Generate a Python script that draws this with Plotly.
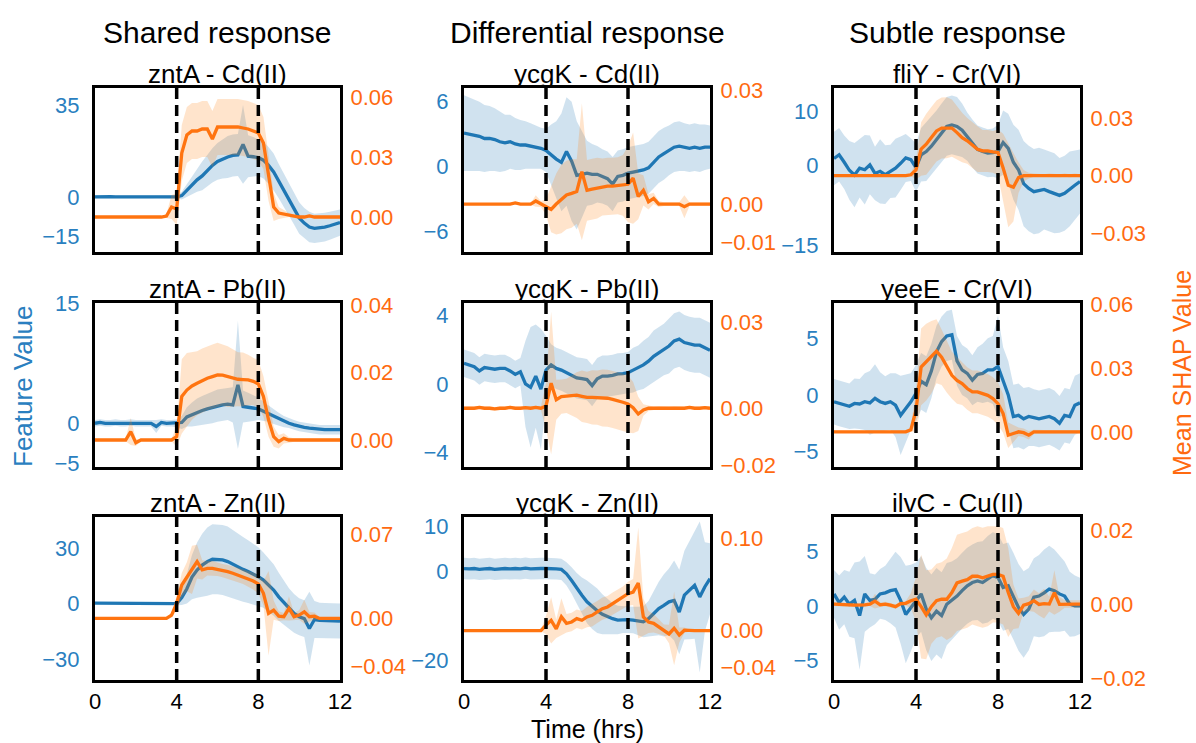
import plotly.graph_objects as go

# ---------------- data ----------------
TIME = [0.0, 0.25, 0.5, 0.75, 1.0, 1.25, 1.5, 1.75, 2.0, 2.25, 2.5, 2.75, 3.0, 3.25, 3.5, 3.75,
        4.0, 4.25, 4.5, 4.75, 5.0, 5.25, 5.5, 5.75, 6.0, 6.25, 6.5, 6.75, 7.0, 7.25, 7.5, 7.75,
        8.0, 8.25, 8.5, 8.75, 9.0, 9.25, 9.5, 9.75, 10.0, 10.25, 10.5, 10.75, 11.0, 11.25, 11.5, 11.75, 12.0]

COLUMN_TITLES = ["Shared response", "Differential response", "Subtle response"]
PANEL_TITLES = ["zntA - Cd(II)", "ycgK - Cd(II)", "fliY - Cr(VI)",
                "zntA - Pb(II)", "ycgK - Pb(II)", "yeeE - Cr(VI)",
                "zntA - Zn(II)", "ycgK - Zn(II)", "ilvC - Cu(II)"]
X_TICKS = [0, 4, 8, 12]
STIM_TIMES = [4, 8]
FV_TICKS = [[-15, 0, 35], [-6, 0, 6], [-15, 0, 10],
            [-5, 0, 15], [-4, 0, 4], [-5, 0, 5],
            [-30, 0, 30], [-20, 0, 10], [-5, 0, 5]]
SHAP_TICKS = [[0.0, 0.03, 0.06], [-0.01, 0.0, 0.03], [-0.03, 0.0, 0.03],
              [0.0, 0.02, 0.04], [-0.02, 0.0, 0.03], [0.0, 0.03, 0.06],
              [-0.04, 0.0, 0.07], [-0.04, 0.0, 0.10], [-0.02, 0.0, 0.02]]

# panel 1: zntA - Cd(II)
ZNTA_CD_FV = [0.0, 0.1, 0.0, 0.1, 0.0, 0.0, 0.1, 0.0, 0.0, 0.1, 0.0, 0.0, 0.1, 0.0, 0.0, 0.0,
              0.0, 0.5, 2.5, 4.5, 6.5, 8.0, 10.0, 12.0, 13.5, 14.5, 15.2, 15.8, 16.0, 20.0, 15.5, 15.3,
              15.0, 14.0, 12.0, 9.5, 6.0, 2.5, -1.0, -4.5, -8.0, -10.0, -11.5, -12.0, -11.8, -11.5, -11.0, -10.5, -9.8]
ZNTA_CD_FV_SD = [0.5, 0.5, 0.5, 0.5, 0.5, 0.5, 0.5, 0.5, 0.5, 0.5, 0.5, 0.5, 0.5, 0.5, 0.5, 0.5,
                 0.6, 1.5, 2.5, 3.5, 4.5, 5.5, 6.0, 6.5, 7.0, 7.5, 8.0, 8.0, 8.0, 15.0, 8.0, 7.5,
                 7.0, 7.0, 7.0, 7.0, 6.5, 6.5, 6.0, 6.0, 6.0, 5.8, 5.8, 5.6, 5.5, 5.5, 5.3, 5.2, 5.0]
ZNTA_CD_SHAP = [0.0, 0.0, 0.0, 0.0, 0.0, 0.0, 0.0, 0.0, 0.0, 0.0, 0.0, 0.0, 0.0, 0.0, 0.0005, 0.005,
                0.004, 0.032, 0.041, 0.043, 0.043, 0.044, 0.044, 0.039, 0.045, 0.045, 0.045, 0.045, 0.045, 0.0445, 0.044, 0.043,
                0.042, 0.037, 0.020, 0.005, 0.002, 0.0015, 0.001, 0.0005, 0.0, 0.0, 0.0005, 0.0, 0.0, 0.0, 0.0, 0.0, 0.0]
ZNTA_CD_SHAP_SD = [0.0004, 0.0004, 0.0004, 0.0004, 0.0004, 0.0004, 0.0004, 0.0004, 0.0004, 0.0004, 0.0004, 0.0004, 0.0004, 0.0004, 0.001, 0.006,
                   0.008, 0.014, 0.014, 0.014, 0.014, 0.014, 0.014, 0.014, 0.014, 0.014, 0.014, 0.014, 0.014, 0.014, 0.014, 0.014,
                   0.014, 0.013, 0.012, 0.007, 0.003, 0.002, 0.001, 0.0007, 0.0007, 0.0007, 0.0007, 0.0007, 0.0007, 0.0007, 0.0007, 0.0007, 0.0007]

# panel 2: ycgK - Cd(II)
YCGK_CD_FV = [3.1, 3.0, 2.9, 2.8, 2.6, 2.6, 2.5, 2.3, 2.2, 2.3, 2.1, 2.0, 2.0, 1.9, 1.8, 1.7,
              1.5, 1.1, 0.7, 0.4, 1.4, 0.5, -0.8, -0.7, -0.6, -0.7, -0.7, -0.9, -1.1, -1.6, -0.9, -0.8,
              -0.6, -0.5, -0.4, -0.3, -0.1, 0.4, 0.9, 1.2, 1.5, 1.8, 1.9, 1.8, 1.7, 1.8, 1.7, 1.8, 1.8]
YCGK_CD_FV_SD = [3.5, 3.4, 3.3, 3.2, 3.1, 3.0, 2.9, 2.8, 2.6, 2.5, 2.4, 2.3, 2.2, 2.1, 2.0, 1.9,
                 2.0, 2.8, 3.5, 4.5, 5.0, 5.5, 5.0, 4.0, 3.0, 2.8, 2.6, 2.5, 2.5, 2.5, 2.4, 2.4,
                 2.4, 2.4, 2.4, 2.4, 2.4, 2.4, 2.4, 2.4, 2.3, 2.3, 2.3, 2.2, 2.2, 2.2, 2.2, 2.1, 2.0]
YCGK_CD_SHAP = [0.0, 0.0, 0.0, 0.0, 0.0, 0.0, 0.0, 0.0, 0.0, 0.0, 0.0003, 0.0, 0.0, 0.0, 0.0008, 0.0,
                -0.0008, -0.0014, 0.0, 0.0013, 0.0024, 0.0028, 0.0033, 0.0085, 0.0036, 0.0039, 0.0042, 0.0045, 0.0047, 0.0047, 0.0048, 0.0049,
                0.0052, 0.0068, 0.0020, 0.0036, 0.0006, 0.0015, 0.0, 0.0, 0.0, 0.0, 0.0, -0.0007, 0.0, 0.0, 0.0, 0.0, 0.0]
YCGK_CD_SHAP_SD = [0.0002, 0.0002, 0.0002, 0.0002, 0.0002, 0.0002, 0.0002, 0.0002, 0.0002, 0.0002, 0.0002, 0.0002, 0.0002, 0.0002, 0.0015, 0.0008,
                   0.002, 0.006, 0.008, 0.009, 0.009, 0.009, 0.0085, 0.018, 0.008, 0.008, 0.008, 0.0075, 0.0075, 0.0075, 0.0075, 0.008,
                   0.010, 0.012, 0.006, 0.004, 0.002, 0.0015, 0.0008, 0.0005, 0.0005, 0.0005, 0.0005, 0.003, 0.0005, 0.0005, 0.0005, 0.0005, 0.0005]

# panel 3: fliY - Cr(VI)
FLIY_CR_FV = [1.2, 1.9, 0.5, -1.0, -1.9, -0.6, -0.9, 0.0, -1.6, -1.2, -1.8, -1.2, -0.6, 0.3, 1.3, 1.0,
              -0.5, 1.9, 2.5, 3.5, 4.7, 6.0, 7.2, 7.5, 7.2, 6.5, 5.3, 4.0, 2.9, 2.5, 2.2, 2.3,
              2.5, 4.2, 3.1, 0.5, -0.9, -3.5, -4.4, -5.0, -4.8, -4.6, -5.0, -5.3, -5.7, -5.3, -4.5, -3.8, -3.1]
FLIY_CR_FV_SD = [5.0, 5.0, 5.0, 5.5, 6.0, 5.5, 6.5, 5.5, 5.0, 6.0, 5.5, 5.0, 5.5, 5.0, 4.5, 4.0,
                 4.5, 5.0, 5.5, 5.5, 5.5, 5.5, 5.5, 5.5, 5.5, 5.0, 4.5, 4.5, 4.5, 4.5, 4.5, 4.5,
                 5.0, 6.0, 6.5, 7.0, 7.5, 8.0, 8.0, 8.0, 8.0, 7.5, 7.5, 7.5, 7.0, 7.0, 7.0, 6.5, 6.0]
FLIY_CR_SHAP = [0.0, 0.0, 0.0, 0.0, 0.0, 0.0, 0.0, 0.0, 0.0, 0.0, 0.0, 0.0, 0.0, 0.0, 0.0, 0.0005,
                0.003, 0.014, 0.0165, 0.020, 0.0235, 0.025, 0.0252, 0.025, 0.0226, 0.020, 0.0183, 0.016, 0.0139, 0.013, 0.013, 0.0125,
                0.0122, 0.004, -0.005, -0.006, -0.001, 0.0, 0.0, 0.0003, 0.0, 0.0, 0.0003, 0.0, 0.0, 0.0003, 0.0, 0.0003, 0.0]
FLIY_CR_SHAP_SD = [0.0006, 0.0006, 0.0006, 0.0006, 0.0006, 0.0006, 0.0006, 0.0006, 0.0006, 0.0006, 0.0006, 0.0006, 0.0006, 0.0006, 0.0006, 0.0006,
                   0.005, 0.014, 0.016, 0.016, 0.016, 0.016, 0.016, 0.015, 0.014, 0.013, 0.012, 0.012, 0.012, 0.011, 0.011, 0.011,
                   0.012, 0.018, 0.022, 0.018, 0.008, 0.003, 0.0015, 0.0008, 0.0008, 0.0008, 0.0008, 0.0008, 0.0008, 0.0008, 0.0008, 0.0008, 0.0008]

# panel 4: zntA - Pb(II)
ZNTA_PB_FV = [0.0, 0.1, 0.0, 0.0, 0.1, 0.0, 0.0, 0.1, 0.0, 0.0, 0.0, 0.0, -0.4, 0.1, 0.0, 0.0,
              0.0, 0.1, 0.8, 1.1, 1.4, 1.6, 1.8, 2.0, 2.2, 2.3, 2.4, 2.3, 4.8, 2.1, 2.0, 1.9,
              1.8, 1.5, 1.2, 0.8, 0.5, 0.2, 0.0, -0.2, -0.4, -0.5, -0.6, -0.7, -0.8, -0.8, -0.8, -0.8, -0.8]
ZNTA_PB_FV_SD = [0.4, 0.4, 0.4, 0.4, 0.4, 0.4, 0.4, 0.4, 0.4, 0.4, 0.4, 0.4, 0.8, 0.4, 0.4, 0.4,
                 0.5, 0.8, 1.2, 1.5, 1.7, 1.8, 1.9, 2.0, 2.0, 2.0, 2.0, 2.2, 8.0, 2.0, 1.8, 1.6,
                 1.4, 1.2, 1.0, 0.9, 0.8, 0.7, 0.6, 0.6, 0.6, 0.6, 0.6, 0.6, 0.6, 0.6, 0.6, 0.6, 0.6]
ZNTA_PB_SHAP = [0.0, 0.0, 0.0, 0.0, 0.0, 0.0, 0.0, 0.0025, -0.0008, 0.0, 0.0, 0.0, 0.0, 0.0, 0.0, 0.0,
                0.001, 0.0129, 0.0148, 0.016, 0.0168, 0.0176, 0.0183, 0.0188, 0.0193, 0.0192, 0.0188, 0.0184, 0.018, 0.0179, 0.0178, 0.0174,
                0.0166, 0.0129, 0.006, 0.001, -0.0005, 0.0005, 0.0, 0.0, 0.0, 0.0, 0.0, 0.0, 0.0, 0.0, 0.0, 0.0, 0.0]
ZNTA_PB_SHAP_SD = [0.0004, 0.0004, 0.0004, 0.0004, 0.0004, 0.0004, 0.0004, 0.004, 0.001, 0.0004, 0.0004, 0.0004, 0.0004, 0.0004, 0.0004, 0.0004,
                   0.003, 0.011, 0.011, 0.010, 0.0095, 0.0095, 0.0095, 0.0095, 0.0095, 0.009, 0.009, 0.0085, 0.008, 0.008, 0.0075, 0.007,
                   0.007, 0.006, 0.005, 0.003, 0.002, 0.0015, 0.0008, 0.0005, 0.0005, 0.0005, 0.0005, 0.0005, 0.0005, 0.0005, 0.0005, 0.0005, 0.0005]

# panel 5: ycgK - Pb(II)
YCGK_PB_FV = [1.2, 1.1, 1.0, 0.75, 0.95, 0.9, 0.85, 0.9, 0.9, 0.75, 0.55, 0.7, 0.0, -0.2, 0.45, -0.3,
              0.8, 1.1, 0.9, 0.8, 0.65, 0.5, 0.35, 0.3, 0.25, -0.1, 0.3, 0.45, 0.45, 0.5, 0.58, 0.6,
              0.65, 0.8, 0.93, 1.1, 1.32, 1.6, 1.8, 2.0, 2.2, 2.5, 2.6, 2.4, 2.3, 2.25, 2.25, 2.1, 1.95]
YCGK_PB_FV_SD = [0.8, 0.8, 0.8, 0.8, 0.8, 0.8, 0.8, 0.8, 0.8, 0.8, 0.8, 0.8, 2.5, 3.5, 3.0, 3.5,
                 2.0, 1.2, 1.2, 1.2, 1.2, 1.2, 1.2, 1.2, 1.2, 1.2, 1.2, 1.2, 1.2, 1.2, 1.2, 1.2,
                 1.2, 1.3, 1.3, 1.4, 1.4, 1.5, 1.5, 1.5, 1.6, 1.6, 1.6, 1.6, 1.6, 1.6, 1.6, 1.6, 1.6]
YCGK_PB_SHAP = [0.0, 0.0, 0.0, 0.0003, 0.0, 0.0, -0.0002, 0.0, 0.0, 0.0003, 0.0, 0.0, 0.0002, 0.0, 0.0003, 0.0,
                0.0008, 0.0088, 0.003, 0.0041, 0.0043, 0.0045, 0.0046, 0.0042, 0.0038, 0.0038, 0.0037, 0.0036, 0.0035, 0.0031, 0.0027, 0.0021,
                0.0015, 0.0002, -0.0020, -0.0006, 0.0, 0.0, 0.0002, 0.0, 0.0, 0.0002, 0.0, 0.0, 0.0003, 0.0, 0.0, 0.0002, 0.0]
YCGK_PB_SHAP_SD = [0.0006, 0.0006, 0.0006, 0.0006, 0.0006, 0.0006, 0.0006, 0.0006, 0.0006, 0.0006, 0.0006, 0.0006, 0.0006, 0.0006, 0.0006, 0.0006,
                   0.008, 0.025, 0.007, 0.006, 0.006, 0.007, 0.008, 0.009, 0.009, 0.0095, 0.0095, 0.010, 0.010, 0.010, 0.010, 0.010,
                   0.010, 0.009, 0.006, 0.002, 0.001, 0.0006, 0.0006, 0.0006, 0.0006, 0.0006, 0.0006, 0.0006, 0.0006, 0.0006, 0.0006, 0.0006, 0.0006]

# panel 6: yeeE - Cr(VI)
YEEE_CR_FV = [-0.6, -0.75, -0.9, -1.0, -0.75, -0.8, -0.6, -0.7, -0.3, -0.6, -0.75, -0.6, -0.9, -1.8, -1.2, -0.6,
              0.15, 1.2, 0.9, 2.1, 3.8, 4.7, 5.2, 5.3, 3.0, 2.2, 1.9, 1.3, 1.8, 1.9, 2.2, 2.2,
              2.5, 1.2, 0.0, -1.9, -1.8, -2.1, -1.9, -2.0, -2.1, -2.0, -1.9, -2.1, -2.5, -1.8, -1.9, -0.9, -0.7]
YEEE_CR_FV_SD = [2.0, 2.0, 2.0, 2.0, 2.2, 2.2, 2.5, 2.8, 3.0, 2.6, 2.4, 2.5, 2.8, 3.5, 3.0, 2.5,
                 2.5, 2.5, 2.5, 2.4, 2.3, 2.2, 2.2, 2.2, 2.2, 2.2, 2.2, 2.2, 2.4, 2.6, 2.8, 3.0,
                 4.5, 3.0, 3.0, 2.8, 2.8, 2.7, 2.6, 2.5, 2.5, 2.5, 2.5, 2.5, 2.4, 2.4, 2.4, 2.6, 2.6]
YEEE_CR_SHAP = [0.0, 0.0, 0.0, 0.0, 0.0, 0.0, 0.0, 0.0, 0.0, 0.0, 0.0, 0.0, 0.0, 0.0, 0.0, 0.001,
                0.010, 0.0304, 0.0327, 0.035, 0.0378, 0.035, 0.0304, 0.0265, 0.0241, 0.0226, 0.0203, 0.0187, 0.0187, 0.0179, 0.0171, 0.0156,
                0.0132, 0.0086, -0.0016, -0.0008, 0.0, -0.0004, -0.0016, 0.0, 0.0, 0.0, 0.0, 0.0, 0.0, 0.0, 0.0, 0.0, 0.0]
YEEE_CR_SHAP_SD = [0.0006, 0.0006, 0.0006, 0.0006, 0.0006, 0.0006, 0.0006, 0.0006, 0.0006, 0.0006, 0.0006, 0.0006, 0.0006, 0.0006, 0.0006, 0.001,
                   0.010, 0.018, 0.018, 0.017, 0.015, 0.013, 0.012, 0.011, 0.011, 0.010, 0.010, 0.010, 0.010, 0.010, 0.010, 0.010,
                   0.010, 0.009, 0.006, 0.004, 0.002, 0.002, 0.002, 0.001, 0.0008, 0.0008, 0.0008, 0.0008, 0.0008, 0.0008, 0.0008, 0.0008, 0.0008]

# panel 7: zntA - Zn(II)
ZNTA_ZN_FV = [0.3, 0.3, 0.3, 0.3, 0.3, 0.3, 0.3, 0.3, 0.3, 0.3, 0.3, 0.3, 0.3, 0.3, 0.3, 0.3,
              0.0, 3.3, 8.1, 14.4, 18.2, 20.9, 22.8, 24.1, 24.1, 23.7, 22.8, 21.3, 20.1, 18.6, 17.4, 16.1,
              14.6, 12.8, 10.1, 7.4, 3.7, 0.5, -2.6, -5.3, -7.1, -8.1, -13.5, -8.6, -9.0, -9.2, -9.4, -9.4, -9.4]
ZNTA_ZN_FV_SD = [0.5, 0.5, 0.5, 0.5, 0.5, 0.5, 0.5, 0.5, 0.5, 0.5, 0.5, 0.5, 0.5, 0.5, 0.5, 0.5,
                 0.8, 4.0, 8.0, 12.0, 15.0, 17.0, 18.5, 19.0, 19.0, 19.0, 19.0, 18.5, 18.0, 17.5, 17.0, 16.5,
                 16.0, 15.0, 14.5, 14.0, 13.0, 12.0, 11.0, 10.5, 10.0, 10.0, 20.0, 10.0, 9.5, 9.5, 9.5, 9.5, 9.5]
ZNTA_ZN_SHAP = [0.0, 0.0, 0.0, 0.0, 0.0, 0.0, 0.0, 0.0, 0.0, 0.0, 0.0, 0.0, 0.0, 0.0, 0.0, 0.0028,
                0.0125, 0.0277, 0.0346, 0.0402, 0.0471, 0.0402, 0.0415, 0.0415, 0.0407, 0.0396, 0.0388, 0.0374, 0.036, 0.0346, 0.0327, 0.031,
                0.0285, 0.0208, 0.0042, 0.0069, 0.0019, 0.0014, 0.0083, 0.0014, 0.0028, 0.0055, 0.0014, 0.0019, 0.0, 0.0, 0.0, 0.0, 0.0]
ZNTA_ZN_SHAP_SD = [0.0006, 0.0006, 0.0006, 0.0006, 0.0006, 0.0006, 0.0006, 0.0006, 0.0006, 0.0006, 0.0006, 0.0006, 0.0006, 0.0006, 0.0006, 0.002,
                   0.006, 0.010, 0.012, 0.020, 0.014, 0.008, 0.006, 0.006, 0.0055, 0.0055, 0.0055, 0.006, 0.006, 0.006, 0.0065, 0.007,
                   0.008, 0.010, 0.035, 0.008, 0.004, 0.003, 0.010, 0.003, 0.004, 0.010, 0.004, 0.003, 0.001, 0.001, 0.001, 0.001, 0.001]

# panel 8: ycgK - Zn(II)
YCGK_ZN_FV = [0.6, 0.5, 0.6, 0.4, 0.5, 0.6, 0.4, 0.5, 0.6, 0.5, 0.6, 0.5, 0.7, 0.5, 0.6, 0.6,
              0.6, 0.6, 0.5, 0.4, -0.6, -2.1, -3.9, -5.4, -6.9, -8.0, -8.9, -9.7, -10.3, -10.7, -11.0, -10.9,
              -10.9, -11.0, -11.2, -11.4, -10.7, -9.5, -8.4, -7.7, -6.9, -6.6, -9.2, -5.4, -4.3, -3.2, -5.8, -3.5, -1.7]
YCGK_ZN_FV_SD = [2.4, 2.4, 2.4, 2.4, 2.4, 2.4, 2.4, 2.4, 2.4, 2.4, 2.4, 2.4, 2.4, 2.4, 2.4, 2.4,
                 2.4, 2.4, 2.4, 2.4, 2.6, 3.0, 3.5, 4.0, 4.8, 5.0, 5.0, 4.5, 4.0, 3.5, 3.2, 3.0,
                 3.0, 3.0, 3.2, 3.5, 4.0, 5.0, 6.0, 7.0, 7.5, 9.0, 9.5, 10.0, 11.0, 12.0, 17.0, 10.0, 8.0]
YCGK_ZN_SHAP = [0.0, 0.0, 0.0, 0.0, 0.0, 0.0, 0.0, 0.0, 0.0, 0.0, 0.0, 0.0, 0.0, 0.0, 0.0, 0.0,
                0.006, 0.0112, 0.002, 0.015, 0.0079, 0.0094, 0.013, 0.0112, 0.0148, 0.0166, 0.0202, 0.0238, 0.0256, 0.0292, 0.0328, 0.0357,
                0.040, 0.0418, 0.0516, 0.0148, 0.0094, 0.0079, 0.0043, 0.0007, -0.0036, 0.0025, -0.0047, 0.0005, 0.0, 0.0, 0.0, 0.0, 0.0]
YCGK_ZN_SHAP_SD = [0.0006, 0.0006, 0.0006, 0.0006, 0.0006, 0.0006, 0.0006, 0.0006, 0.0006, 0.0006, 0.0006, 0.0006, 0.0006, 0.0006, 0.0006, 0.0006,
                   0.010, 0.025, 0.010, 0.020, 0.010, 0.010, 0.010, 0.010, 0.011, 0.012, 0.012, 0.012, 0.012, 0.012, 0.012, 0.012,
                   0.013, 0.014, 0.060, 0.020, 0.012, 0.010, 0.008, 0.006, 0.010, 0.040, 0.008, 0.003, 0.001, 0.001, 0.001, 0.001, 0.001]

# panel 9: ilvC - Cu(II)
ILVC_CU_FV = [1.1, 0.3, 0.8, 0.15, 0.5, -0.9, 1.1, 0.5, 0.6, 1.1, 1.2, 1.4, 1.5, 0.5, -0.8, -0.2,
              0.5, 1.1, -0.3, -1.1, -0.5, -0.9, 0.15, 0.5, 0.9, 1.4, 1.85, 2.15, 2.3, 2.15, 2.45, 2.8,
              2.6, 1.7, 1.85, 0.9, -0.15, -0.8, -0.3, 0.8, 0.9, 1.2, 1.55, 1.4, 1.1, 0.9, 0.15, 0.0, 0.0]
ILVC_CU_FV_SD = [2.2, 2.5, 2.5, 3.0, 3.5, 5.0, 3.5, 2.5, 2.3, 2.3, 2.5, 3.0, 3.5, 4.0, 4.5, 4.0,
                 3.5, 3.5, 3.8, 4.0, 4.0, 4.0, 3.8, 3.6, 3.5, 3.5, 3.5, 3.5, 3.6, 3.8, 4.0, 4.0,
                 4.0, 4.0, 4.0, 4.0, 4.0, 4.0, 3.8, 3.6, 3.8, 4.0, 4.0, 3.8, 3.5, 3.2, 3.0, 2.8, 2.6]
ILVC_CU_SHAP = [0.0, 0.0, 0.0, -0.0002, -0.0003, -0.0003, -0.0002, 0.0, 0.0008, -0.0002, 0.0, -0.0003, -0.0007, 0.0001, 0.0002, 0.0009,
                0.0013, -0.0007, -0.0029, -0.0007, 0.0009, 0.0013, 0.0013, 0.0031, 0.0057, 0.0062, 0.0066, 0.0075, 0.0075, 0.0071, 0.0075, 0.008,
                0.008, 0.0075, 0.0031, -0.0007, -0.0025, -0.0003, 0.0001, 0.0009, -0.0001, 0.0001, 0.0, 0.0031, -0.0001, 0.0, 0.0, 0.0, 0.0]
ILVC_CU_SHAP_SD = [0.0005, 0.0005, 0.0005, 0.0005, 0.0005, 0.0005, 0.0005, 0.0005, 0.002, 0.0006, 0.0006, 0.0006, 0.0006, 0.0006, 0.0006, 0.002,
                   0.006, 0.014, 0.012, 0.010, 0.010, 0.010, 0.011, 0.012, 0.013, 0.013, 0.013, 0.013, 0.0135, 0.0135, 0.0135, 0.013,
                   0.013, 0.013, 0.012, 0.006, 0.004, 0.002, 0.002, 0.003, 0.003, 0.004, 0.002, 0.006, 0.002, 0.001, 0.001, 0.001, 0.001]

FEATURE_MEANS = [ZNTA_CD_FV, YCGK_CD_FV, FLIY_CR_FV, ZNTA_PB_FV, YCGK_PB_FV, YEEE_CR_FV, ZNTA_ZN_FV, YCGK_ZN_FV, ILVC_CU_FV]
FEATURE_SDS = [ZNTA_CD_FV_SD, YCGK_CD_FV_SD, FLIY_CR_FV_SD, ZNTA_PB_FV_SD, YCGK_PB_FV_SD, YEEE_CR_FV_SD, ZNTA_ZN_FV_SD, YCGK_ZN_FV_SD, ILVC_CU_FV_SD]
SHAP_MEANS = [ZNTA_CD_SHAP, YCGK_CD_SHAP, FLIY_CR_SHAP, ZNTA_PB_SHAP, YCGK_PB_SHAP, YEEE_CR_SHAP, ZNTA_ZN_SHAP, YCGK_ZN_SHAP, ILVC_CU_SHAP]
SHAP_SDS = [ZNTA_CD_SHAP_SD, YCGK_CD_SHAP_SD, FLIY_CR_SHAP_SD, ZNTA_PB_SHAP_SD, YCGK_PB_SHAP_SD, YEEE_CR_SHAP_SD, ZNTA_ZN_SHAP_SD, YCGK_ZN_SHAP_SD, ILVC_CU_SHAP_SD]

for arr in FEATURE_MEANS + FEATURE_SDS + SHAP_MEANS + SHAP_SDS:
    assert len(arr) == len(TIME), len(arr)

# ---------------- styling / layout ----------------
W, H = 1196, 743
BLUE = "#1f77b4"
BLUE_TXT = "#2a7fc0"
ORANGE = "#ff7410"
ORANGE_TXT = "#ff6a10"
BLUE_FILL = "rgba(31,119,180,0.21)"
ORANGE_FILL = "rgba(255,127,14,0.21)"
FONT = "Liberation Sans, Arial, Helvetica, sans-serif"

COL_PX = [(95, 340), (464, 710), (834, 1080)]
ROW_PX = [(88, 252), (303, 467), (517, 680)]
FV_RANGES = [[-21, 41.5], [-7.87, 7.26], [-16.3, 14.4],
             [-5.45, 15.0], [-4.83, 4.7], [-6.35, 8.1],
             [-41.4, 47.0], [-24.5, 12.2], [-6.85, 8.2]]
SHAP_RANGES = [[-0.0175, 0.0645], [-0.0126, 0.0305], [-0.040, 0.046],
               [-0.008, 0.0406], [-0.0206, 0.0369], [-0.0165, 0.0604],
               [-0.051, 0.084], [-0.0534, 0.123], [-0.0205, 0.0235]]


def fmt_int(v):
    return str(int(v)).replace("-", "\u2212")


def fmt_shap(v):
    return f"{v:.2f}".replace("-", "\u2212")


fig = go.Figure()
layout = dict(
    width=W, height=H, margin=dict(l=0, r=0, t=0, b=0, autoexpand=False),
    paper_bgcolor="white", plot_bgcolor="white",
    font=dict(family=FONT, size=22, color="black"),
    showlegend=False, shapes=[], annotations=[],
)

for i in range(9):
    r, c = divmod(i, 3)
    xk = "" if i == 0 else str(i + 1)
    yl = "" if i == 0 else str(2 * i + 1)
    yr = str(2 * i + 2)
    xref, ylref, yrref = "x" + xk, "y" + yl, "y" + yr

    x0, x1 = COL_PX[c][0] / W, COL_PX[c][1] / W
    y0, y1 = 1 - ROW_PX[r][1] / H, 1 - ROW_PX[r][0] / H

    mean, sd = FEATURE_MEANS[i], FEATURE_SDS[i]
    upper = [m + s for m, s in zip(mean, sd)]
    lower = [m - s for m, s in zip(mean, sd)]
    fig.add_trace(go.Scatter(x=TIME + TIME[::-1], y=upper + lower[::-1], fill="toself",
                             fillcolor=BLUE_FILL, line=dict(width=0), mode="lines",
                             hoverinfo="skip", xaxis=xref, yaxis=ylref))
    fig.add_trace(go.Scatter(x=TIME, y=mean, mode="lines", line=dict(color=BLUE, width=3.3),
                             xaxis=xref, yaxis=ylref))

    smean, ssd = SHAP_MEANS[i], SHAP_SDS[i]
    supper = [m + s for m, s in zip(smean, ssd)]
    slower = [m - s for m, s in zip(smean, ssd)]
    fig.add_trace(go.Scatter(x=TIME + TIME[::-1], y=supper + slower[::-1], fill="toself",
                             fillcolor=ORANGE_FILL, line=dict(width=0), mode="lines",
                             hoverinfo="skip", xaxis=xref, yaxis=yrref))
    fig.add_trace(go.Scatter(x=TIME, y=smean, mode="lines", line=dict(color=ORANGE, width=3.3),
                             xaxis=xref, yaxis=yrref))

    layout["xaxis" + xk] = dict(
        domain=[x0, x1], range=[0, 12], anchor=ylref,
        showline=True, mirror=True, linewidth=3, linecolor="black",
        showgrid=False, zeroline=False,
        tickmode="array", tickvals=X_TICKS, ticktext=[str(t) for t in X_TICKS],
        ticks="",
        showticklabels=(r == 2), tickfont=dict(size=22, color="black", family=FONT),
    )
    layout["yaxis" + yl] = dict(
        domain=[y0, y1], range=FV_RANGES[i], anchor=xref, side="left",
        showline=True, mirror=True, linewidth=3, linecolor="black",
        showgrid=False, zeroline=False,
        tickmode="array", tickvals=FV_TICKS[i], ticktext=[fmt_int(v) for v in FV_TICKS[i]],
        ticks="outside", ticklen=8, tickcolor="rgba(0,0,0,0)",
        tickfont=dict(size=22, color=BLUE_TXT, family=FONT),
    )
    layout["yaxis" + yr] = dict(
        overlaying=ylref, anchor=xref, side="right", range=SHAP_RANGES[i],
        showline=False, showgrid=False, zeroline=False,
        tickmode="array", tickvals=SHAP_TICKS[i], ticktext=[fmt_shap(v) for v in SHAP_TICKS[i]],
        ticks="outside", ticklen=5, tickcolor="rgba(0,0,0,0)",
        tickfont=dict(size=22, color=ORANGE_TXT, family=FONT),
    )

    for s in STIM_TIMES:
        layout["shapes"].append(dict(
            type="line", xref=xref, yref=ylref + " domain", x0=s, x1=s, y0=0, y1=1,
            line=dict(color="black", width=3.5, dash="11px,6px"), layer="above"))

    layout["annotations"].append(dict(
        text=PANEL_TITLES[i], x=(x0 + x1) / 2, y=y1, xref="paper", yref="paper",
        xanchor="center", yanchor="bottom", yshift=-3, showarrow=False,
        font=dict(size=26, color="black", family=FONT)))

for c in range(3):
    cx = (COL_PX[c][0] + COL_PX[c][1]) / 2 / W
    layout["annotations"].append(dict(
        text=COLUMN_TITLES[c], x=cx, y=1 - 32 / H, xref="paper", yref="paper",
        xanchor="center", yanchor="middle", showarrow=False,
        font=dict(size=30, color="black", family=FONT)))

layout["annotations"].append(dict(
    text="Feature Value", x=23 / W, y=1 - 387 / H, xref="paper", yref="paper",
    xanchor="center", yanchor="middle", textangle=-90, showarrow=False,
    font=dict(size=26, color=BLUE_TXT, family=FONT)))
layout["annotations"].append(dict(
    text="Mean SHAP Value", x=1182 / W, y=1 - 373 / H, xref="paper", yref="paper",
    xanchor="center", yanchor="middle", textangle=-90, showarrow=False,
    font=dict(size=25, color=ORANGE_TXT, family=FONT)))
layout["annotations"].append(dict(
    text="Time (hrs)", x=587 / W, y=1 - 729 / H, xref="paper", yref="paper",
    xanchor="center", yanchor="middle", showarrow=False,
    font=dict(size=25, color="black", family=FONT)))

fig.update_layout(**layout)
fig.write_html("out.html", post_script="document.body.style.margin='0px';document.body.style.overflow='hidden';")
